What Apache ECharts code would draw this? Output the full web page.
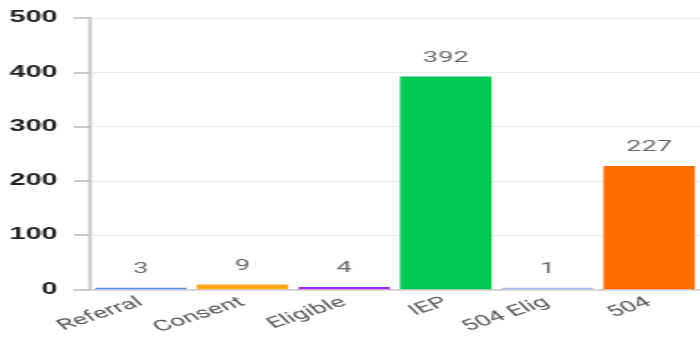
<!DOCTYPE html>
<html><head><meta charset="utf-8">
<script src="https://cdn.jsdelivr.net/npm/echarts@6/dist/echarts.min.js"></script>
<style>
html,body{margin:0;padding:0;background:#fff;overflow:hidden}
#wrap{width:700px;height:337px;overflow:hidden}
#c{width:389px;height:337px;transform:scaleX(1.7995);transform-origin:0 0}
</style>
</head><body><div id="wrap"><div id="c"></div></div>
<script>
const categories = ["Referral", "Consent", "Eligible", "IEP", "504 Elig", "504"];
const values = [3, 9, 4, 392, 1, 227];
const barColors = ["#5b8cf5", "#ffa51a", "#a524ee", "#00c853", "#aab6f0", "#ff6d00"];
const yTicks = [0, 100, 200, 300, 400, 500];

const chart = echarts.init(document.getElementById('c'), null, {renderer: 'canvas'});
chart.setOption({
  animation: false,
  grid: {left: 50, right: 0, top: 18, bottom: 47},
  xAxis: {
    type: 'category',
    data: categories,
    axisLine: {lineStyle: {color: '#ccc', width: 1.5}},
    axisTick: {show: false},
    axisLabel: {rotate: 30, color: '#555', fontSize: 15, fontFamily: 'Roboto', margin: 12, interval: 0}
  },
  yAxis: {
    type: 'value',
    min: yTicks[0], max: yTicks[yTicks.length - 1], interval: 100,
    axisLine: {show: true, lineStyle: {color: '#d0d0d0', width: 2.4}},
    axisTick: {show: true, length: 9, lineStyle: {color: '#bbb', width: 1.5}},
    splitLine: {lineStyle: {color: '#ebebeb', width: 1}},
    axisLabel: {color: '#222', fontSize: 16, fontWeight: 'bold', fontFamily: 'Liberation Sans', margin: 18}
  },
  series: [{
    type: 'bar',
    data: values.map((v, i) => ({value: v, itemStyle: {color: barColors[i]}})),
    barCategoryGap: '10%',
    barMinHeight: 1.5,
    label: {show: true, position: 'top', distance: 11, color: '#666', fontSize: 15, fontFamily: 'Roboto'}
  }]
});
</script></body></html>
